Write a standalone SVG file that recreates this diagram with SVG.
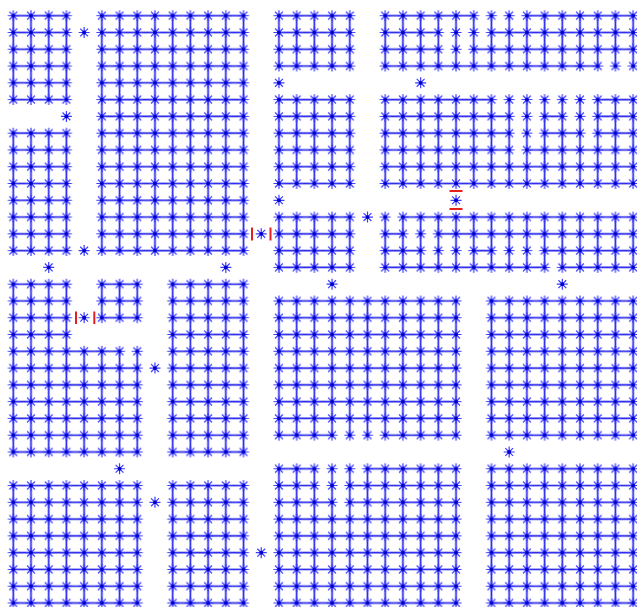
<svg xmlns="http://www.w3.org/2000/svg" xmlns:xlink="http://www.w3.org/1999/xlink" width="637" height="607" viewBox="0 0 637 607">
<style>
.halo{fill:none;stroke:#aeaef7;stroke-width:2.8}
.core{fill:none;stroke:#3030ea;stroke-width:1.1}
.blk{stroke:none}
.cut{stroke:#e61e1e;stroke-width:2;fill:none}
</style>
<defs>
<g id="s"><path d="M-5.5 0H5.5M0 -5.5V5.5M-3.9 -3.9L3.9 3.9M-3.9 3.9L3.9 -3.9" stroke="#3c3cff" stroke-width="1.2" fill="none"/><circle r="1.9" fill="#0000c8"/></g>
<pattern id="pt" patternUnits="userSpaceOnUse" x="4.445" y="7.31" width="17.71" height="16.78"><use href="#s" x="8.855" y="8.39"/></pattern>
<path id="hz" vector-effect="non-scaling-stroke" d="M0 0H3M5 0H13M15 0H19M21 0H26M29 0H35
M0 1H3M5 1H13M15 1H19M21 1H24M27 1H35
M0 2H3M5 2H13M15 2H19M21 2H24M26 2H35
M0 3H3M5 3H13M15 3H19M21 3H33
M0 4H3M5 4H13
M0 5H3M5 5H13M15 5H19M21 5H27M33 5H35
M5 6H13M15 6H19M21 6H28M30 6H31M33 6H35
M0 7H3M5 7H13M15 7H19M21 7H28M30 7H32M33 7H35
M0 8H3M5 8H13M15 8H19M21 8H28M29 8H35
M0 9H3M5 9H13M15 9H19M21 9H35
M0 10H3M5 10H13M15 10H19M21 10H35
M0 11H3M5 11H13
M0 12H3M5 12H13M15 12H19M22 12H35
M0 13H3M5 13H13M15 13H19M21 13H22M24 13H35
M0 14H3M5 14H13M15 14H19M21 14H23M26 14H27M30 14H35
M15 15H19M21 15H30M31 15H35
M0 16H3M5 16H7M9 16H13
M0 17H3M5 17H7M9 17H13M15 17H25M27 17H35
M0 18H3M5 18H7M9 18H13M15 18H25M27 18H35
M0 19H3M9 19H13M15 19H25M27 19H35
M0 20H6M9 20H13M15 20H25M27 20H35
M0 21H7M9 21H13M15 21H25M27 21H35
M0 22H7M9 22H13M15 22H25M27 22H35
M0 23H7M9 23H13M15 23H25M27 23H35
M0 24H7M9 24H13M15 24H25M27 24H35
M0 25H7M9 25H13M15 25H18M21 25H25M27 25H35
M0 26H7M9 26H13
M15 27H17M20 27H25M27 27H35
M0 28H7M9 28H13M15 28H17M19 28H25M27 28H35
M0 29H7M9 29H13M15 29H18M19 29H25M27 29H35
M0 30H7M9 30H13M15 30H25M27 30H35
M0 31H7M9 31H13M15 31H25M27 31H35
M0 32H7M9 32H13M15 32H25M27 32H35
M0 33H7M9 33H13M15 33H25M27 33H35
M0 34H7M9 34H13M15 34H25M27 34H35
M0 35H7M9 35H13M15 35H25M27 35H35"/>
<path id="vt" vector-effect="non-scaling-stroke" d="M0 0V5M0 7V14M0 16V26M0 28V35
M1 0V5M1 7V14M1 16V26M1 28V35
M2 0V5M2 7V14M2 16V26M2 28V35
M3 0V5M3 7V14M3 16V26M3 28V35
M4 20V26M4 28V35
M5 0V14M5 16V18M5 20V26M5 28V35
M6 0V14M6 16V18M6 20V26M6 28V35
M7 0V14M7 16V18M7 20V26M7 28V35
M8 0V14
M9 0V14M9 16V26M9 28V35
M10 0V14M10 16V26M10 28V35
M11 0V14M11 16V26M11 28V35
M12 0V14M12 16V26M12 28V35
M13 0V14M13 16V26M13 28V35
M15 0V3M15 5V10M15 12V15M15 17V25M15 27V35
M16 0V3M16 5V10M16 12V15M16 17V25M16 27V35
M17 0V3M17 5V10M17 12V15M17 17V25M17 27V35
M18 0V3M18 5V10M18 12V15M18 17V25M18 27V35
M19 0V3M19 5V10M19 12V15M19 17V25M19 27V35
M20 17V25M20 27V35
M21 0V3M21 5V10M21 12V15M21 17V25M21 27V35
M22 0V3M22 5V10M22 12V15M22 17V25M22 27V35
M23 0V3M23 5V10M23 12V15M23 17V25M23 27V35
M24 0V3M24 5V10M24 12V15M24 17V25M24 27V35
M25 0V3M25 5V10M25 12V15M25 17V25M25 27V35
M26 0V3M26 5V10M26 12V15
M27 0V3M27 5V10M27 12V15M27 17V25M27 27V35
M28 0V3M28 5V10M28 12V15M28 17V25M28 27V35
M29 0V3M29 5V10M29 12V15M29 17V25M29 27V35
M30 0V3M30 5V10M30 12V15M30 17V25M30 27V35
M31 0V3M31 5V10M31 12V15M31 17V25M31 27V35
M32 0V3M32 5V10M32 12V15M32 17V25M32 27V35
M33 0V3M33 5V10M33 12V15M33 17V25M33 27V35
M34 0V3M34 5V10M34 12V15M34 17V25M34 27V35
M35 0V3M35 5V10M35 12V15M35 17V25M35 27V35"/>
</defs>
<rect width="637" height="607" fill="#ffffff"/>
<g id="connectors" transform="matrix(17.71 0 0 16.78 13.3 15.7)">
<use href="#hz" class="halo"/><use href="#vt" class="halo"/>
<use href="#hz" class="core"/><use href="#vt" class="core"/>
</g>
<g id="nodes" fill="url(#pt)">
<g id="block-A"><rect class="blk" x="4.445" y="7.31" width="70.84" height="100.68"/></g>
<g id="block-B"><rect class="blk" x="4.445" y="124.77" width="70.84" height="134.24"/></g>
<g id="block-C"><rect class="blk" x="93" y="7.31" width="159.39" height="251.7"/></g>
<g id="block-D1"><rect class="blk" x="270.1" y="7.31" width="88.55" height="67.12"/></g>
<g id="block-D2"><rect class="blk" x="270.1" y="91.21" width="88.55" height="100.68"/></g>
<g id="block-D3"><rect class="blk" x="270.1" y="208.67" width="88.55" height="67.12"/></g>
<g id="block-F"><rect class="blk" x="376.36" y="7.31" width="265.65" height="67.12"/></g>
<g id="block-G"><rect class="blk" x="376.36" y="91.21" width="265.65" height="100.68"/></g>
<g id="block-E"><rect class="blk" x="376.36" y="208.67" width="265.65" height="67.12"/></g>
<g id="block-H1"><rect class="blk" x="4.445" y="275.79" width="70.84" height="67.12"/></g>
<g id="block-H2"><rect class="blk" x="93" y="275.79" width="53.13" height="50.34"/></g>
<g id="block-H3"><rect class="blk" x="4.445" y="342.91" width="141.68" height="117.46"/></g>
<g id="block-I"><rect class="blk" x="163.84" y="275.79" width="88.55" height="184.58"/></g>
<g id="block-J"><rect class="blk" x="270.1" y="292.57" width="194.81" height="151.02"/></g>
<g id="block-K"><rect class="blk" x="482.62" y="292.57" width="159.39" height="151.02"/></g>
<g id="block-L"><rect class="blk" x="4.445" y="477.15" width="141.68" height="134.24"/></g>
<g id="block-M"><rect class="blk" x="163.84" y="477.15" width="88.55" height="134.24"/></g>
<g id="block-N"><rect class="blk" x="270.1" y="460.37" width="194.81" height="151.02"/></g>
<g id="block-O"><rect class="blk" x="482.62" y="460.37" width="159.39" height="151.02"/></g>
<g id="n4-1"><use href="#s" x="84.14" y="32.48"/></g>
<g id="n3-6"><use href="#s" x="66.43" y="116.38"/></g>
<g id="n4-14"><use href="#s" x="84.14" y="250.62"/></g>
<g id="n2-15"><use href="#s" x="48.72" y="267.4"/></g>
<g id="n12-15"><use href="#s" x="225.82" y="267.4"/></g>
<g id="n15-4"><use href="#s" x="278.95" y="82.82"/></g>
<g id="n15-11"><use href="#s" x="278.95" y="200.28"/></g>
<g id="n14-13"><use href="#s" x="261.24" y="233.84"/></g>
<g id="n20-12"><use href="#s" x="367.5" y="217.06"/></g>
<g id="n23-4"><use href="#s" x="420.63" y="82.82"/></g>
<g id="n25-11"><use href="#s" x="456.05" y="200.28"/></g>
<g id="n18-16"><use href="#s" x="332.08" y="284.18"/></g>
<g id="n31-16"><use href="#s" x="562.31" y="284.18"/></g>
<g id="n28-26"><use href="#s" x="509.18" y="451.98"/></g>
<g id="n6-27"><use href="#s" x="119.56" y="468.76"/></g>
<g id="n4-18"><use href="#s" x="84.14" y="317.74"/></g>
<g id="n8-21"><use href="#s" x="154.98" y="368.08"/></g>
<g id="n8-29"><use href="#s" x="154.98" y="502.32"/></g>
<g id="n14-32"><use href="#s" x="261.24" y="552.66"/></g>
</g>
<g id="cuts">
<path class="cut" d="M252 227.5V240.5M270.5 227.5V240.5"/>
<path class="cut" d="M76 311.5V324M94.3 311.5V324"/>
<path class="cut" d="M449.5 191H462.5M449.5 209H462.5"/>
</g>
</svg>
